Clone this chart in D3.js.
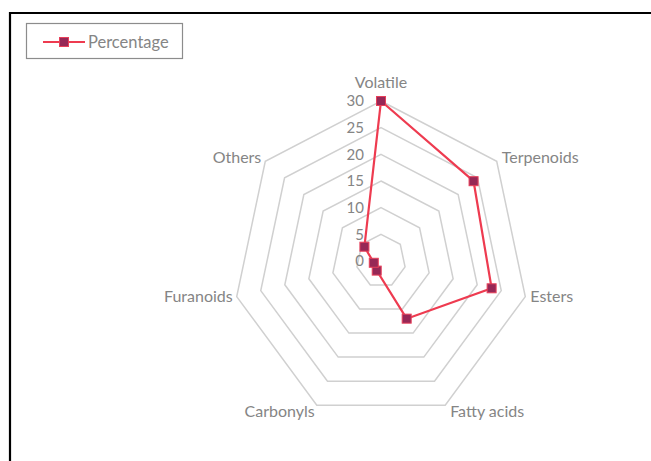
<!DOCTYPE html>
<html>
<head>
<meta charset="utf-8">
<script src="https://cdn.jsdelivr.net/npm/d3@7"></script>
<style>
  html, body { margin: 0; padding: 0; background: #fff; }
  svg { display: block; }
  text { font-family: Lato, "Open Sans", sans-serif; fill: #858585; }
</style>
</head>
<body>
<svg id="chart" width="651" height="461"></svg>
<script>
const categories = ["Volatile", "Terpenoids", "Esters", "Fatty acids", "Carbonyls", "Furanoids", "Others"];
const values = [30, 24, 23, 12, 2, 1.5, 4.3];
const tickValues = [0, 5, 10, 15, 20, 25, 30];
const seriesName = "Percentage";

const W = 651, H = 461;
const cx = 381, cy = 261;
const svg = d3.select("#chart");

// frame (top and left edges only)
svg.append("path")
  .attr("d", `M10,461 L10,13 L651,13`)
  .attr("fill", "none").attr("stroke", "#000").attr("stroke-width", 2.2);

const rX = d3.scaleLinear().domain([0, 30]).range([0, 148]);
const rY = d3.scaleLinear().domain([0, 30]).range([0, 160]);
const n = categories.length;
const ang = d3.scaleLinear().domain([0, n]).range([-Math.PI / 2, 1.5 * Math.PI]);

function pt(i, v) {
  const a = ang(i);
  return [cx + rX(v) * Math.cos(a), cy + rY(v) * Math.sin(a)];
}

// rings
const ringLine = d3.line().curve(d3.curveLinearClosed);
svg.append("g").selectAll("path")
  .data(tickValues.filter(t => t > 0))
  .join("path")
  .attr("d", t => ringLine(categories.map((c, i) => pt(i, t))))
  .attr("fill", "none").attr("stroke", "#d0d0d0").attr("stroke-width", 1.5);

// tick labels
svg.append("g").selectAll("text")
  .data(tickValues)
  .join("text")
  .attr("x", cx - 17)
  .attr("y", t => cy - rY(t))
  .attr("dy", "0.35em")
  .attr("text-anchor", "end")
  .style("font-size", "15px")
  .text(t => t);

// category labels
const outer = 30;
svg.append("g").selectAll("text")
  .data(categories)
  .join("text")
  .each(function (c, i) {
    const [x, y] = pt(i, outer);
    const a = ang(i);
    const cosA = Math.cos(a);
    const sel = d3.select(this);
    let anchor, dx = 0, dy = 0;
    if (Math.abs(cosA) < 0.05) { anchor = "middle"; dy = -19; }
    else if (cosA > 0) { anchor = "start"; dx = 5; dy = Math.sin(a) > 0.8 ? 6 : (Math.sin(a) < 0 ? -4 : 0); }
    else { anchor = "end"; dx = cosA < -0.6 ? -4 : -2; dy = Math.sin(a) > 0.8 ? 6 : (Math.sin(a) < 0 ? -4 : 0); }
    sel.attr("x", x + dx).attr("y", y + dy).attr("dy", "0.35em")
      .attr("text-anchor", anchor).style("font-size", "16px").text(c);
  });

// series
const color = "#ee3b50";
const pts = values.map((v, i) => pt(i, v));
svg.append("path")
  .attr("d", ringLine(pts))
  .attr("fill", "none").attr("stroke", color).attr("stroke-width", 2.2);

svg.append("g").selectAll("rect")
  .data(pts)
  .join("rect")
  .attr("x", d => d[0] - 4.5).attr("y", d => d[1] - 4.5)
  .attr("width", 9).attr("height", 9)
  .attr("fill", "#962856").attr("stroke", "#e8405a").attr("stroke-width", 1);

// legend
const lg = svg.append("g");
lg.append("rect").attr("x", 26.5).attr("y", 23.5).attr("width", 156).attr("height", 35)
  .attr("fill", "#fff").attr("stroke", "#8c8c8c").attr("stroke-width", 1.2);
lg.append("line").attr("x1", 43).attr("x2", 85).attr("y1", 42).attr("y2", 42)
  .attr("stroke", color).attr("stroke-width", 2.2);
lg.append("rect").attr("x", 64 - 4.5).attr("y", 42 - 4.5).attr("width", 9).attr("height", 9)
  .attr("fill", "#962856").attr("stroke", "#e8405a").attr("stroke-width", 1);
lg.append("text").attr("x", 88).attr("y", 42).attr("dy", "0.35em")
  .style("font-size", "16.5px").text(seriesName);
</script>
</body>
</html>
